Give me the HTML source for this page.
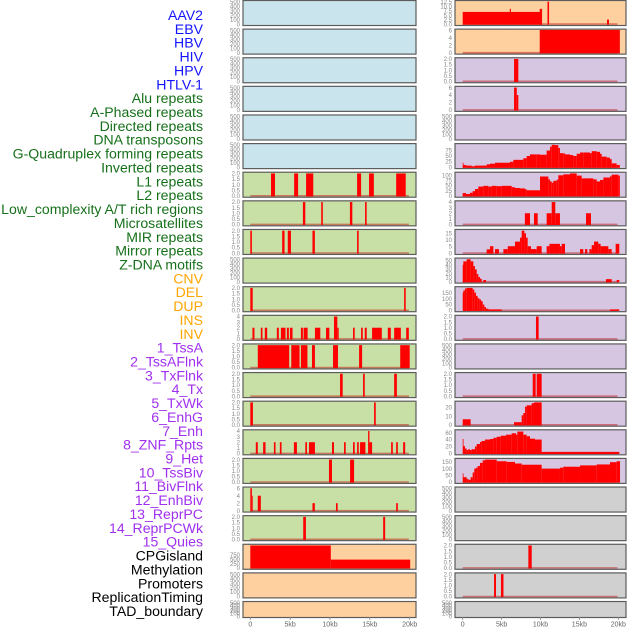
<!DOCTYPE html>
<html><head><meta charset="utf-8"><style>
html,body{margin:0;padding:0;background:#fff}
svg{display:block}
</style></head><body>
<svg id="chart" width="630" height="630" xmlns="http://www.w3.org/2000/svg" font-family="Liberation Sans, sans-serif"></svg>
<script>
// ---- labels ----
const labelTexts = ["AAV2","EBV","HBV","HIV","HPV","HTLV-1","Alu repeats","A-Phased repeats","Directed repeats","DNA transposons","G-Quadruplex forming repeats","Inverted repeats","L1 repeats","L2 repeats","Low_complexity A/T rich regions","Microsatellites","MIR repeats","Mirror repeats","Z-DNA motifs","CNV","DEL","DUP","INS","INV","1_TssA","2_TssAFlnk","3_TxFlnk","4_Tx","5_TxWk","6_EnhG","7_Enh","8_ZNF_Rpts","9_Het","10_TssBiv","11_BivFlnk","12_EnhBiv","13_ReprPC","14_ReprPCWk","15_Quies","CPGisland","Methylation","Promoters","ReplicationTiming","TAD_boundary"];
const labelGroups = [6,13,5,15,5];
const groupColors = ["#1515ff","#16701a","#ffa500","#a030ef","#000000"];
// ---- x axis ----
const xTickKb = [0,5,10,15,20];
const xTickLabels = ["0","5kb","10kb","15kb","20kb"];
// ---- panel backgrounds (per row: left, right) ----
const leftColors = ["b","b","b","b","b","b","g","g","g","g","g","g","g","g","g","g","g","g","g","o","o","o"];
const rightColors = ["o","o","p","p","p","p","p","p","p","p","p","p","p","p","p","p","p","k","k","k","k","k"];
// ---- ticks and domain maxima ----
const T500=[0,100,200,300,400,500], T2=[0,0.5,1,1.5,2], T4=[0,1,2,3,4], T6=[0,2,4,6];
const leftTicks = [T500,T500,T500,T500,T500,T500,T2,T2,T2,T500,T2,T4,T2,T2,T2,T4,T2,T6,T2,[0,250,500,750],T500,T500];
const leftMax = [500,500,500,500,500,500,2,2,2,500,2,4,2,2,2,4,2,6,2,1300,500,500];
const rightTicks = [[0,2.5,5,7.5,10,12.5],T6,T2,T6,T500,[0,25,50,75],[0,25,50,75,100],T4,[0,5,10,15],[0,10,20,30,40,50],[0,50,100,150],T2,T500,T2,[0,10,20],[0,20,40,60],[0,50,100,150],T500,T500,T2,T2,T500];
const rightMax = [12.5,6,2,6,500,99,109,4,17,53,194,2,500,2,26,64.6,167,500,500,2,2,500];
// ---- left series: [startKb, endKb, value] ----
const L6=[[2.6,3.1,2],[5.5,6.0,2],[7.0,7.9,2],[13.4,13.9,2],[14.9,15.5,2],[18.3,19.5,2]];
const L7=[[6.6,6.9,2],[8.9,9.1,2],[12.5,12.8,2],[14.4,14.6,2]];
const L8=[[0,0.2,2],[4.0,4.3,2],[4.7,5.1,2],[7.8,8.1,2],[13.4,13.6,2]];
const L10=[[0,0.3,2],[19.3,19.5,2]];
const L11=[[0.27,0.52,2],[1.32,1.53,2],[1.82,2.12,2],[3.33,3.58,2],[3.84,4.42,2],[4.59,4.84,2],[4.97,5.30,2],[6.35,6.6,2],[6.69,7.19,2],[8.11,8.78,2],[9.5,9.92,2],[10.5,10.92,4],[10.92,11.09,2],[12.89,13.1,2],[13.9,14.11,2],[14.36,14.61,2],[15.28,16.5,2],[17.25,17.63,2],[18.05,18.89,2],[19.56,19.89,2]];
const L12=[[0.94,4.88,2],[5.14,6.18,2],[6.35,7.17,2],[7.74,8.11,2],[10.38,11.0,2],[13.65,14.03,2],[18.81,20.0,2]];
const L13=[[11.26,11.59,2],[14.15,14.36,2],[18.05,18.39,2]];
const L14=[[0,0.33,2],[15.53,15.74,2]];
const L15=[[0.69,0.94,2],[1.61,1.91,2],[2.96,3.17,2],[3.71,3.92,2],[5.47,5.85,2],[6.9,7.11,2],[7.36,8.11,2],[10.25,10.5,2],[11.76,11.97,2],[12.89,13.1,2],[13.4,13.61,2],[13.77,14.44,2],[14.78,14.95,4],[14.95,15.28,2],[17.67,17.88,2],[18.3,18.51,2],[19.18,19.43,2]];
const L16=[[9.87,10.25,2],[12.52,13.02,2]];
const L17=[[0,0.2,6],[0.2,0.3,4],[0.94,1.32,4],[7.8,8.1,2],[10.75,10.96,2],[18.3,18.51,2]];
const L18=[[6.64,6.98,2],[16.67,16.92,2]];
const L19=[[0,10.1,1300],[10.1,20.06,480]];
// ---- right series ----
const R0=[[0,10.15,6.8],[6.05,6.2,8.5],[9.9,10.2,8.5],[10.9,11.1,12.5],[18.55,18.8,2.5]];
const R1=[[9.9,20.2,6.3]];
const R2=[[6.6,7.15,2]];
const R3=[[6.6,6.95,6],[6.95,7.15,4]];
const R5x=[0,0.08,0.42,1.15,1.58,3.08,3.51,4.15,6.08,6.51,7.79,8.22,8.65,9.51,9.94,10.79,11.22,11.44,11.86,12.29,12.5,12.93,13.15,13.79,14.22,14.65,15.08,15.5,16.36,16.58,17.22,17.65,17.86,18.5,18.93,19.15,19.79,20.2];
const R5v=[19.8,9.9,7.1,4.2,7.1,12.7,15.6,19.8,24,32.5,39.6,49.5,56.6,56.6,55.2,73.6,90.6,99,97.6,85,62,61,56.6,53.8,49.5,59.4,65,65,62,70.8,68,59.4,46.7,42.5,35.4,17,9.9];
const R6x=[0,0.42,0.94,1.28,1.58,2.01,2.65,3.3,3.72,4.37,5.01,6.08,6.29,6.72,7.36,8.01,8.22,9.94,11.01,11.22,11.44,11.65,12.08,12.29,12.93,13.79,14.65,15.29,16.79,17.22,17.65,18.08,18.93,19.15,20.0,20.2];
const R6v=[13.6,9,15,22.7,33,45,48.5,45,48.5,47,48.5,48.5,42,38,36,32,27,94,80,70,64,73,79,100,104.5,109,98.5,85,80,70,77,89,95,103,98.5];
const R7=[[7.99,8.65,2],[9.16,9.64,2],[10.79,11.44,2],[11.44,11.9,4],[11.9,12.5,2],[15.85,16.49,2]];
const R8=[[3.08,3.51,2.8],[3.51,3.94,5.2],[4.15,4.66,3],[5.23,5.79,3],[5.79,6.72,5.2],[6.72,7.36,8.7],[7.36,7.58,11.7],[7.58,7.93,17],[7.93,8.14,15],[8.14,8.35,11.7],[8.35,8.78,5.2],[8.78,9.51,3],[9.51,10.15,5.2],[10.79,11.14,5.2],[11.14,12.5,7],[12.5,12.72,5.2],[12.72,13.15,7],[15.08,15.5,3],[15.72,16.02,3],[16.28,16.58,3],[16.58,16.88,6],[16.88,17.43,8.7],[17.43,17.73,7],[17.73,18.72,5.2],[18.72,19.15,3],[19.66,20.13,7]];
const R9=[[0,0.08,40],[0.08,0.51,48],[0.51,1.02,53],[1.02,1.37,48],[1.37,1.58,37],[1.58,1.8,29],[1.8,2.01,18],[2.01,2.22,11],[2.22,2.44,7],[2.65,3.0,4],[18.41,19.15,6],[19.79,20.13,4]];
const R10=[[0,0.08,153],[0.08,0.29,172],[0.29,0.51,189],[0.51,1.28,194],[1.28,1.49,180],[1.49,1.71,153],[1.71,1.92,125],[1.92,2.14,105],[2.14,2.35,94],[2.35,2.57,78],[2.57,2.78,50],[2.78,3.0,28],[3.0,3.3,14],[3.3,5.01,8],[18.93,20.13,8]];
const R11=[[9.42,9.76,2]];
const R13=[[9.0,9.38,2],[9.51,10.15,2]];
const R14=[[0,1.02,6.4],[6.59,7.58,3],[7.58,7.79,11],[7.79,8.01,13.6],[8.01,8.22,21],[8.22,8.86,22.6],[8.86,9.16,25],[9.16,10.15,26]];
const R15x=[0,0.08,0.29,0.51,0.72,0.94,1.15,1.58,1.8,2.22,2.44,2.87,3.51,3.94,4.37,4.88,5.57,6.29,6.85,7.02,7.79,8.22,8.65,9.29,10.15,20.13];
const R15v=[41.6,21,14,9.7,12,9.7,12,20,27,33,36,40,41.6,45,48,51,54,58,54,63,54,49.5,42.5,40,4.4];
const R16x=[0,0.08,0.51,0.72,1.02,1.28,1.49,1.71,1.92,2.22,2.57,2.87,4.37,5.65,6.72,7.58,10.15,12.5,12.93,15.08,17.22,18.93,19.79,20.22];
const R16v=[64,36,24,17,36,71,100,107,119,143,162,167,155,150,138,129,100,107,114,124,131,148,155];
const R19=[[8.44,8.87,2]];
const R20=[[4.03,4.28,2],[4.92,5.24,2]];

function steps(xs,vs){const o=[];for(let i=0;i<vs.length;i++)o.push([xs[i],xs[i+1],vs[i]]);return o;}
const leftSeries={6:L6,7:L7,8:L8,10:L10,11:L11,12:L12,13:L13,14:L14,15:L15,16:L16,17:L17,18:L18,19:L19};
const rightSeries={0:R0,1:R1,2:R2,3:R3,5:steps(R5x,R5v),6:steps(R6x,R6v),7:R7,8:R8,9:R9,10:R10,11:R11,13:R13,14:R14,15:steps(R15x,R15v),16:steps(R16x,R16v),19:R19,20:R20};

const NS="http://www.w3.org/2000/svg";
const svg=document.getElementById('chart');
function mk(tag,attrs,parent){const e=document.createElementNS(NS,tag);for(const k in attrs)e.setAttribute(k,attrs[k]);(parent||svg).appendChild(e);return e;}
const fills={b:"#c9e4ec",g:"#c8e0a6",o:"#ffd09f",p:"#d6c6e2",k:"#d0d0d0"};

// labels
let idx=0;
labelGroups.forEach((n,g)=>{for(let j=0;j<n;j++){const t=mk('text',{x:203,y:20+idx*13.86,'text-anchor':'end','font-size':'14.1',fill:groupColors[g]});t.textContent=labelTexts[idx];


idx++;}});

const cols=[{x0:243,w:173,zero:250.3,px:7.97,colors:leftColors,ticks:leftTicks,max:leftMax,series:leftSeries,tx:240,name:'left'},
            {x0:455,w:171,zero:462.7,px:7.78,colors:rightColors,ticks:rightTicks,max:rightMax,series:rightSeries,tx:452,name:'right'}];
cols.forEach(c=>{
  const xs=kb=>c.zero+kb*c.px;
  for(let r=0;r<22;r++){
    const top=0.5+r*28.62, h=(r===21)?16:25;
    const ys=v=>top+(h-1.4)-Math.min(v,c.max[r]*1.02)/c.max[r]*(h-2.6);
    const g=mk('g',{});
    
    
    const bg=mk('rect',{x:c.x0,y:top,width:c.w,height:h,fill:fills[c.colors[r]]},g);
    
    
    const data=c.series[r];
    if(data){
      mk('line',{x1:xs(0),x2:xs(19.9),y1:ys(0),y2:ys(0),stroke:'rgba(190,0,0,0.45)','stroke-width':1.6},g);
      data.forEach(d=>{const b=mk('rect',{x:xs(d[0]),y:ys(d[2]),width:Math.max(0.8,xs(d[1])-xs(d[0])),height:ys(0)-ys(d[2])+0.6,fill:'#ff0000'},g);
        
        });
    }
    mk('rect',{x:c.x0,y:top,width:c.w,height:h,fill:'none',stroke:'#5c5c5c','stroke-width':1.2},g);
    c.ticks[r].forEach(v=>{const t=mk('text',{x:c.tx,y:ys(v)+2.2,'text-anchor':'end','font-size':'6',fill:'#888'},g);
      t.textContent=(c.ticks[r]===T2||c.name==='right'&&r===0)?v.toFixed(1):String(v);
      
      });
  }
  xTickKb.forEach((k,i)=>{mk('line',{x1:xs(k),x2:xs(k),y1:617,y2:620,stroke:'#888','stroke-width':0.8});
    const t=mk('text',{x:xs(k),y:626.5,'text-anchor':'middle','font-size':'7',fill:'#666'});t.textContent=xTickLabels[i];
    
    });
});
</script>
</body></html>
